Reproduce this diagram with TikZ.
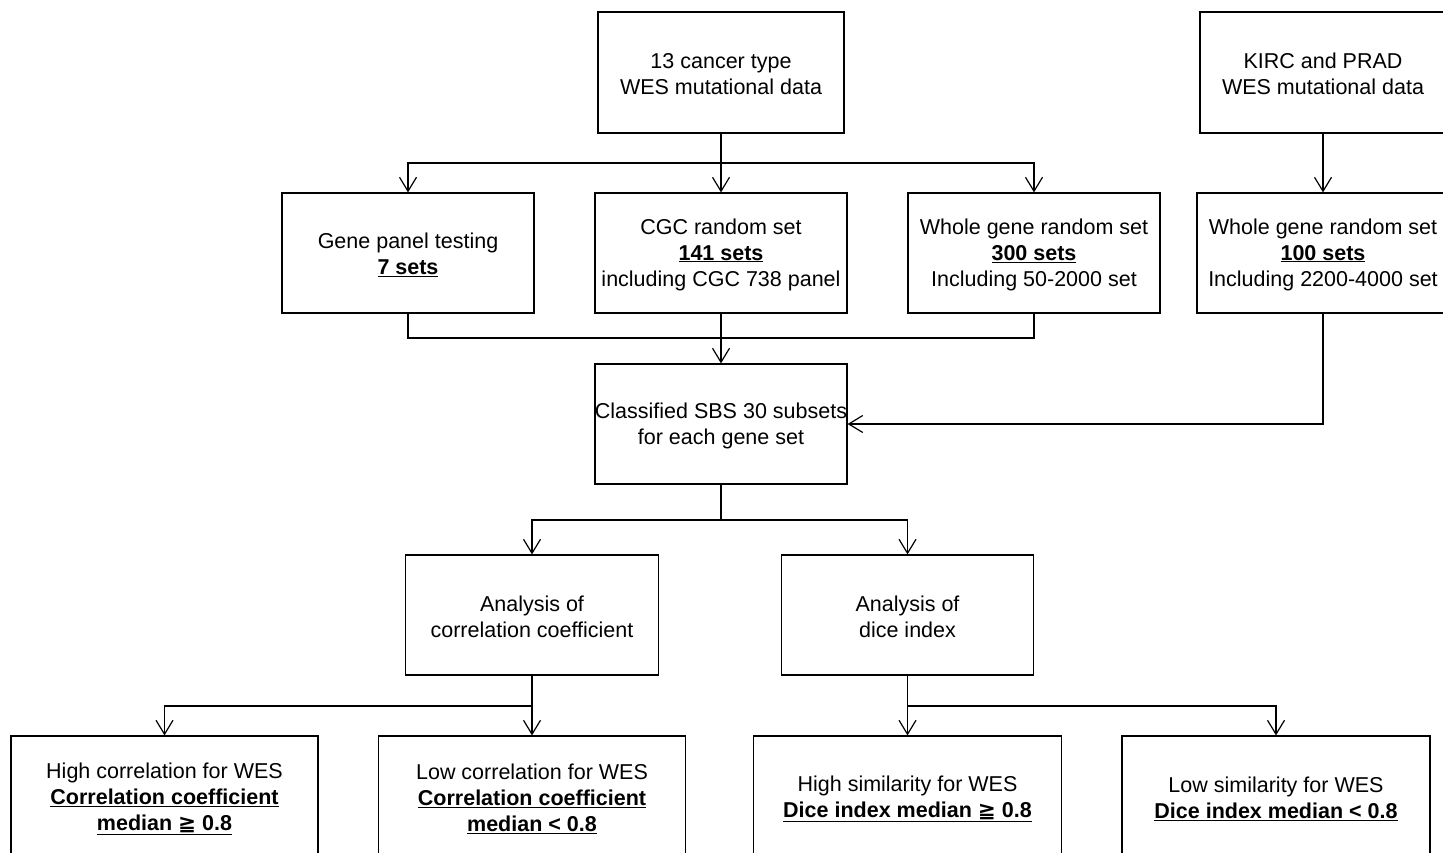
\documentclass[tikz,border=0pt]{standalone}
\usepackage{fontspec}
\setmainfont{Liberation Sans}
\newfontfamily\dvfont{DejaVu Sans}
\usetikzlibrary{arrows.meta}
\newcommand{\gqsym}{{\dvfont ≧}}
\tikzset{
  box/.style={draw, line width=1.2pt, inner sep=0pt},
  txt/.style={inner sep=0pt, align=center, font=\fontsize{21.5}{26}\selectfont, yshift=-1.5pt},
  link/.style={line width=1.2pt},
  arr/.style={line width=1.2pt, -{Straight Barb[length=14pt,width=17pt,line width=1.2pt]}},
}
\begin{document}
\begin{tikzpicture}[x=1pt,y=-1pt]
\useasboundingbox (0,0) rectangle (1443,852);
\clip (0,0) rectangle (1443,852);
\fill[white] (0,0) rectangle (1443,852);
% boxes
\node[box, minimum width=246pt, minimum height=121pt] (top1) at (721,72.5) {};
\node[box, minimum width=246pt, minimum height=121pt] (top2) at (1323,72.5) {};
\node[box, minimum width=252pt, minimum height=120pt] (gp) at (408,253) {};
\node[box, minimum width=252pt, minimum height=120pt] (cgc) at (721,253) {};
\node[box, minimum width=252pt, minimum height=120pt] (wg) at (1034,253) {};
\node[box, minimum width=252pt, minimum height=120pt] (wg2) at (1323,253) {};
\node[box, minimum width=252pt, minimum height=120pt] (cls) at (721,424) {};
\node[box, minimum width=253pt, minimum height=120pt] (acc) at (532,615) {};
\node[box, minimum width=252pt, minimum height=120pt] (adi) at (907.5,615) {};
\node[box, minimum width=307pt, minimum height=122pt] (hc) at (164.5,797) {};
\node[box, minimum width=307pt, minimum height=122pt] (lc) at (532,797) {};
\node[box, minimum width=308pt, minimum height=122pt] (hs) at (907.5,797) {};
\node[box, minimum width=308pt, minimum height=122pt] (ls) at (1276,797) {};
% texts
\node[txt] (ttop1) at (top1.center) {13 cancer type\\WES mutational data};
\node[txt] (ttop2) at (top2.center) {KIRC and PRAD\\WES mutational data};
\node[txt] (tgp) at (gp.center) {Gene panel testing\\\underline{\textbf{7 sets}}};
\node[txt] (tcgc) at (cgc.center) {CGC random set\\\underline{\textbf{141 sets}}\\including CGC 738 panel};
\node[txt] (twg) at (wg.center) {Whole gene random set\\\underline{\textbf{300 sets}}\\Including 50-2000 set};
\node[txt] (twg2) at (wg2.center) {Whole gene random set\\\underline{\textbf{100 sets}}\\Including 2200-4000 set};
\node[txt] (tcls) at (cls.center) {Classified SBS 30 subsets\\for each gene set};
\node[txt] (tacc) at (acc.center) {Analysis of\\correlation coefficient};
\node[txt] (tadi) at (adi.center) {Analysis of\\dice index};
\node[txt] (thc) at (hc.center) {High correlation for WES\\\underline{\textbf{Correlation coefficient}}\\\underline{\textbf{median \gqsym\ 0.8}}};
\node[txt] (tlc) at (lc.center) {Low correlation for WES\\\underline{\textbf{Correlation coefficient}}\\\underline{\textbf{median < 0.8}}};
\node[txt] (ths) at (hs.center) {High similarity for WES\\\underline{\textbf{Dice index median \gqsym\ 0.8}}};
\node[txt] (tls) at (ls.center) {Low similarity for WES\\\underline{\textbf{Dice index median < 0.8}}};
% junctions
\coordinate (j1) at (721,163);
\coordinate (j2) at (721,338);
\coordinate (j3) at (721,520);
\coordinate (j4) at (532,706);
\coordinate (j5) at (907.5,706);
% connectors
\draw[arr] (top1.south) -- (cgc.north);
\draw[arr] (j1) -| (gp.north);
\draw[arr] (j1) -| (wg.north);
\draw[arr] (top2.south) -- (wg2.north);
\draw[link] (gp.south) |- (j2) -| (wg.south);
\draw[arr] (cgc.south) -- (cls.north);
\draw[arr] (wg2.south) |- (cls.east);
\draw[link] (cls.south) -- (j3);
\draw[arr] (j3) -| (acc.north);
\draw[arr] (j3) -| (adi.north);
\draw[arr] (acc.south) -- (lc.north);
\draw[arr] (j4) -| (hc.north);
\draw[arr] (adi.south) -- (hs.north);
\draw[arr] (j5) -| (ls.north);
\end{tikzpicture}
\end{document}
